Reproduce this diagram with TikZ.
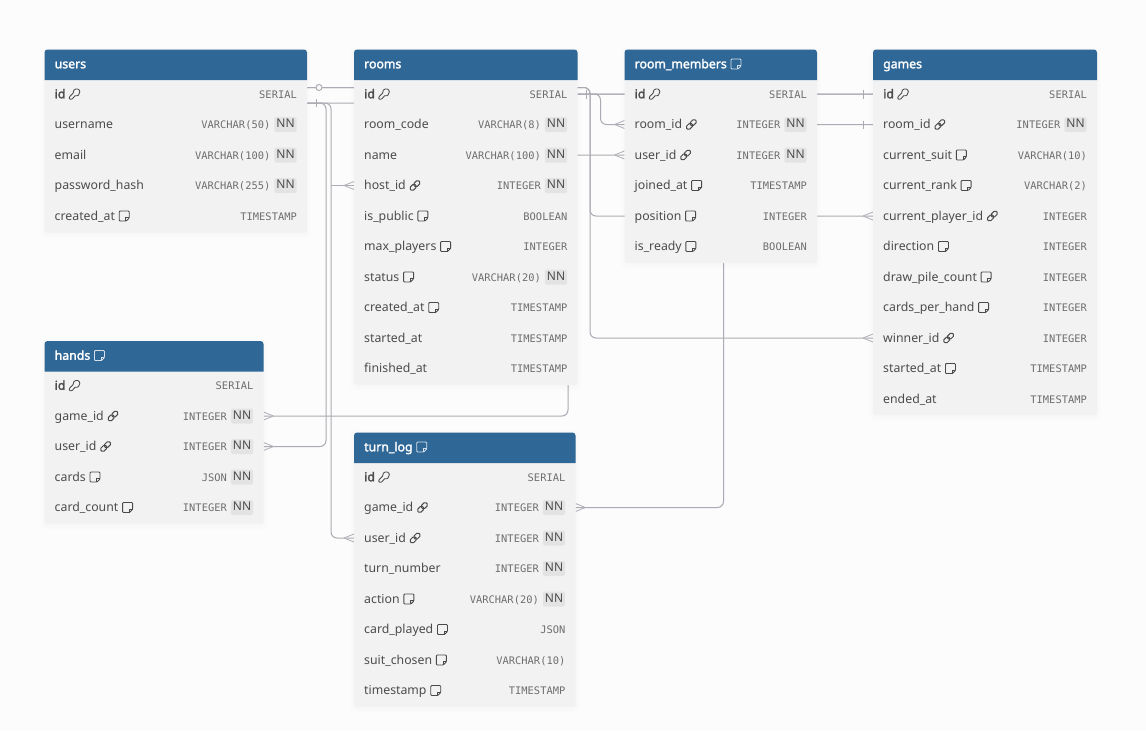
\documentclass[tikz,border=0pt]{standalone}
\usepackage{fontspec}
\setmainfont{Noto Sans}[BoldFont={Noto Sans},BoldFeatures={FakeBold=2}]
\newfontfamily\typefont{DejaVu Sans Mono}
\pgfdeclarelayer{bg}
\pgfsetlayers{bg,main}
\definecolor{pagebg}{HTML}{FCFCFC}
\definecolor{headblue}{HTML}{2F6796}
\definecolor{bodybg}{HTML}{F2F2F2}
\definecolor{chipbg}{HTML}{E3E3E3}
\definecolor{nametxt}{HTML}{4C4C4C}
\definecolor{typetxt}{HTML}{6E6E6E}
\definecolor{linecol}{HTML}{ABABB3}
\definecolor{crowcol}{HTML}{B4B4BC}
\definecolor{iconcol}{HTML}{4A4A4A}
\definecolor{iconwhite}{HTML}{D5E0EA}
\tikzset{
  tablebody/.style={fill=bodybg,rounded corners=3pt,inner sep=0pt,anchor=north west},
  tabletitle/.style={font=\fontsize{12.3}{14}\selectfont\bfseries,text=white,anchor=west,inner sep=0pt,text height=9.5pt,text depth=3pt},
  rowname/.style={font=\fontsize{12.3}{14}\selectfont,text=nametxt,anchor=west,inner sep=0pt,text height=9.5pt,text depth=3pt},
  rowtype/.style={font=\typefont\fontsize{10.4}{13}\selectfont,text=typetxt,anchor=east,inner sep=0pt,text height=9.5pt,text depth=3pt},
  nnchip/.style={font=\fontsize{12}{14}\selectfont,text=nametxt,fill=chipbg,rounded corners=1.5pt,inner sep=0pt,minimum width=22.4pt,minimum height=15pt,text height=9.5pt,text depth=3pt},
  connector/.style={draw=linecol,line width=1pt,rounded corners=6pt},
  mark line/.style={draw=linecol,line width=1pt},
  crow line/.style={draw=crowcol,line width=.9pt},
  none/.pic={},
  note/.pic={
    \draw[draw=iconcol,line width=.9pt,rounded corners=.9pt] (-5,-5) -- (5,-5) -- (5,2) -- (2,5) -- (-5,5) -- cycle;
    \draw[draw=iconcol,line width=.8pt] (5,1.6) -- (1.6,1.6) -- (1.6,5);
  },
  notewhite/.pic={
    \draw[draw=iconwhite,line width=.9pt,rounded corners=.9pt] (-5,-5) -- (5,-5) -- (5,2) -- (2,5) -- (-5,5) -- cycle;
    \draw[draw=iconwhite,line width=.8pt] (5,1.6) -- (1.6,1.6) -- (1.6,5);
  },
  key/.pic={
    \draw[draw=iconcol,line width=.85pt,rounded corners=.8pt,scale=1.05] (-5,5) -- (-5,2.6) -- (-1,-1.2) .. controls (-1.8,-4.8) and (3.5,-6) .. (4.8,-2.8) .. controls (5.5,.6) and (2.2,2.2) .. (.8,1.2) -- (-2.5,5) -- cycle;
  },
  link/.pic={
    \draw[draw=iconcol,line width=1pt,rotate=45,rounded corners=1.5pt,scale=1.15] (-5.2,-1.9) rectangle (.6,1.9);
    \draw[draw=iconcol,line width=1pt,rotate=45,rounded corners=1.5pt,scale=1.15] (-.6,-1.9) rectangle (5.2,1.9);
  },
  crow/.pic={
    \draw[crow line] (-10,0) -- (0,-4) (-10,0) -- (0,4);
  },
}
% table frame: name, x1, x2, y top, y bottom, title, title icon
\newcommand\tablebox[7]{%
  \def\tl{#2}\def\tr{#3}%
  \pgfmathsetmacro\tw{#3-#2}\pgfmathsetmacro\th{#5-#4}%
  \foreach \s in {1,2,3,4}{\fill[black,opacity=.005,rounded corners=4pt] (#2-\s,#4-\s+1.5) rectangle (#3+\s,#5+\s+1.5);}
  \node[tablebody,minimum width=\tw pt,minimum height=\th pt] (#1) at (#2,#4) {};
  \fill[headblue] (#2,#4+30.5) [rounded corners=3pt] -- (#2,#4) -- (#3,#4) [sharp corners] -- (#3,#4+30.5) -- cycle;
  \node[tabletitle] (#1-title) at (#2+10,#4+15.5) {#6};
  \pic at ([xshift=9pt,yshift=1pt]#1-title.east) {#7};
}
% row: name, label, icon, type, NN?, y
\newcommand\erow[6]{%
  \coordinate (#1-l) at (\tl,#6);
  \coordinate (#1-r) at (\tr,#6);
  \node[rowname] (#1) at (\tl+10,#6+1) {#2};
  \pic at ([xshift=9pt,yshift=1pt]#1.east) {#3};
  \ifx#5y
    \node[nnchip] (#1-nn) at (\tr-21.5,#6) {NN};
    \node[rowtype] (#1-type) at (\tr-36.5,#6+1) {#4};
  \else
    \node[rowtype] (#1-type) at (\tr-10,#6+1) {#4};
  \fi
}
\begin{document}
\begin{tikzpicture}[x=1pt,y=-1pt]
\useasboundingbox (0,0) rectangle (1146,731);
\begin{pgfonlayer}{bg}
\fill[pagebg] (0,0) rectangle (1146,731);
\end{pgfonlayer}

\tablebox{users}{44.5}{307}{49.5}{233}{users}{none}
\erow{users-id}{\bfseries id}{key}{SERIAL}{n}{94}
\erow{users-username}{username}{none}{VARCHAR(50)}{y}{124.5}
\erow{users-email}{email}{none}{VARCHAR(100)}{y}{155}
\erow{users-password_hash}{password\_hash}{none}{VARCHAR(255)}{y}{185.5}
\erow{users-created_at}{created\_at}{note}{TIMESTAMP}{n}{216}

\tablebox{rooms}{354}{577.5}{49.5}{385}{rooms}{none}
\erow{rooms-id}{\bfseries id}{key}{SERIAL}{n}{94}
\erow{rooms-room_code}{room\_code}{none}{VARCHAR(8)}{y}{124.5}
\erow{rooms-name}{name}{none}{VARCHAR(100)}{y}{155}
\erow{rooms-host_id}{host\_id}{link}{INTEGER}{y}{185.5}
\erow{rooms-is_public}{is\_public}{note}{BOOLEAN}{n}{216}
\erow{rooms-max_players}{max\_players}{note}{INTEGER}{n}{246.5}
\erow{rooms-status}{status}{note}{VARCHAR(20)}{y}{277}
\erow{rooms-created_at}{created\_at}{note}{TIMESTAMP}{n}{307.5}
\erow{rooms-started_at}{started\_at}{none}{TIMESTAMP}{n}{338}
\erow{rooms-finished_at}{finished\_at}{none}{TIMESTAMP}{n}{368.5}

\tablebox{room_members}{624.5}{817}{49.5}{263}{room\_members}{notewhite}
\erow{rm-id}{\bfseries id}{key}{SERIAL}{n}{94}
\erow{rm-room_id}{room\_id}{link}{INTEGER}{y}{124.5}
\erow{rm-user_id}{user\_id}{link}{INTEGER}{y}{155}
\erow{rm-joined_at}{joined\_at}{note}{TIMESTAMP}{n}{185.5}
\erow{rm-position}{position}{note}{INTEGER}{n}{216}
\erow{rm-is_ready}{is\_ready}{note}{BOOLEAN}{n}{246.5}

\tablebox{games}{873}{1097}{49.5}{415}{games}{none}
\erow{games-id}{\bfseries id}{key}{SERIAL}{n}{94}
\erow{games-room_id}{room\_id}{link}{INTEGER}{y}{124.5}
\erow{games-current_suit}{current\_suit}{note}{VARCHAR(10)}{n}{155}
\erow{games-current_rank}{current\_rank}{note}{VARCHAR(2)}{n}{185.5}
\erow{games-current_player_id}{current\_player\_id}{link}{INTEGER}{n}{216}
\erow{games-direction}{direction}{note}{INTEGER}{n}{246.5}
\erow{games-draw_pile_count}{draw\_pile\_count}{note}{INTEGER}{n}{277}
\erow{games-cards_per_hand}{cards\_per\_hand}{note}{INTEGER}{n}{307.5}
\erow{games-winner_id}{winner\_id}{link}{INTEGER}{n}{338}
\erow{games-started_at}{started\_at}{note}{TIMESTAMP}{n}{368.5}
\erow{games-ended_at}{ended\_at}{none}{TIMESTAMP}{n}{399}

\tablebox{hands}{44.5}{263.5}{341}{524}{hands}{notewhite}
\erow{hands-id}{\bfseries id}{key}{SERIAL}{n}{385.5}
\erow{hands-game_id}{game\_id}{link}{INTEGER}{y}{416}
\erow{hands-user_id}{user\_id}{link}{INTEGER}{y}{446.5}
\erow{hands-cards}{cards}{note}{JSON}{y}{477}
\erow{hands-card_count}{card\_count}{note}{INTEGER}{y}{507.5}

\tablebox{turn_log}{354}{575.5}{432.5}{707}{turn\_log}{notewhite}
\erow{tl-id}{\bfseries id}{key}{SERIAL}{n}{477}
\erow{tl-game_id}{game\_id}{link}{INTEGER}{y}{507.5}
\erow{tl-user_id}{user\_id}{link}{INTEGER}{y}{538}
\erow{tl-turn_number}{turn\_number}{none}{INTEGER}{y}{568.5}
\erow{tl-action}{action}{note}{VARCHAR(20)}{y}{599}
\erow{tl-card_played}{card\_played}{note}{JSON}{n}{629.5}
\erow{tl-suit_chosen}{suit\_chosen}{note}{VARCHAR(10)}{n}{660}
\erow{tl-timestamp}{timestamp}{note}{TIMESTAMP}{n}{690.5}

\begin{pgfonlayer}{bg}
% anchors of the shared routes
\coordinate (uA) at ([yshift=6.5pt]users-id-r);
\coordinate (uB) at ([yshift=-9pt]users-id-r);
\coordinate (busA) at (590,87.5);
\coordinate (busB) at (326,103);
\coordinate (busC) at (331,103);
\coordinate (busD) at (600.5,94);
\coordinate (busE) at (568,94);
\coordinate (busF) at (723.5,94);
\coordinate (busG) at (450,103);
\coordinate (busH) at (700,94);
% users.id optional
\draw[connector] (uA) -- (busA) -- (busA |- games-winner_id-l) -- (games-winner_id-l);
\draw[connector] (uA) -- (busA) -- (busA |- games-current_player_id-l) -- (games-current_player_id-l);
% users.id
\draw[connector] (uB) -- (busG) -- (busG |- rm-user_id-l) -- (rm-user_id-l);
\draw[connector] (uB) -- (busB) -- (busB |- hands-user_id-r) -- (hands-user_id-r);
\draw[connector] (uB) -- (busC) -- (busC |- tl-user_id-l) -- (tl-user_id-l);
\draw[connector] (busC |- rooms-host_id-l) -- (rooms-host_id-l);
% rooms.id
\draw[connector] (rooms-id-r) -- (busD) -- (busD |- rm-room_id-l) -- (rm-room_id-l);
\draw[connector] (rooms-id-r) -- (busH) -- (busH |- games-room_id-l) -- (games-room_id-l);
% games.id
\draw[connector] (games-id-l) -- (busE) -- (busE |- hands-game_id-r) -- (hands-game_id-r);
\draw[connector] (games-id-l) -- (busF) -- (busF |- tl-game_id-r) -- (tl-game_id-r);
% end marks
\fill[pagebg] (319,87.5) circle (3pt);
\draw[mark line] (319,87.5) circle (3pt);
\draw[mark line] (316,99) -- (316,107);
\draw[mark line] (586,90) -- (586,98.5);
\draw[mark line] (863,90) -- (863,98.5);
\draw[mark line] (863,120.5) -- (863,128.5);
\pic at (rooms-host_id-l) {crow};
\pic at (rm-room_id-l) {crow};
\pic at (rm-user_id-l) {crow};
\pic at (games-current_player_id-l) {crow};
\pic at (games-winner_id-l) {crow};
\pic at (tl-user_id-l) {crow};
\pic[xscale=-1] at (hands-game_id-r) {crow};
\pic[xscale=-1] at (hands-user_id-r) {crow};
\pic[xscale=-1] at (tl-game_id-r) {crow};
\end{pgfonlayer}
\end{tikzpicture}
\end{document}
